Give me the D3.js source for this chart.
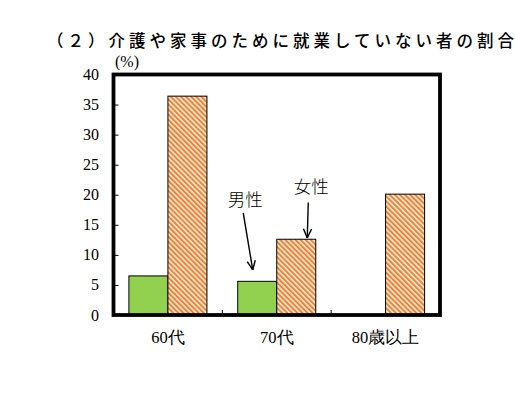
<!DOCTYPE html>
<html lang="en"><head><meta charset="utf-8">
<script src="https://cdn.jsdelivr.net/npm/d3@7"></script>
<style>html,body{margin:0;padding:0;background:#fff;}</style>
</head><body>
<svg id="c" width="515" height="408"></svg>
<script>
const title = "（２）介護や家事のために就業していない者の割合";
const unitLabel = "(%)";
const categories = ["60代", "70代", "80歳以上"];
const seriesNames = ["男性", "女性"];
const maleValues = [6.5, 5.6, 0];
const femaleValues = [36.4, 12.6, 20.1];
const yTicks = [0, 5, 10, 15, 20, 25, 30, 35, 40];
// annotation arrows: label, series, category, arrow tip value
const annotations = [
  {label: "男性", series: "男性", cat: "70代", tipValue: 7.5, tailValue: 17, textValue: 18.1, dxTip: -4.5, dxTail: -14, dxText: -12},
  {label: "女性", series: "女性", cat: "70代", tipValue: 12.8, tailValue: 18.7, textValue: 20.3, dxTip: 11, dxTail: 12, dxText: 15}
];

const SERIF = "Liberation Serif";
const SANSJ = "Noto Sans CJK JP";
const svg = d3.select("#c");
const m = {left: 113.5, right: 440, top: 74.5, bottom: 315};

const x = d3.scaleBand().domain(categories).range([m.left, m.right]).paddingInner(0).paddingOuter(0);
const bw = x.bandwidth();
const xs = d3.scaleBand().domain(seriesNames).range([15.4, bw - 15.4]).padding(0);
const y = d3.scaleLinear().domain([0, 40]).range([m.bottom, m.top]);

const defs = svg.append("defs");
const pat = defs.append("pattern").attr("id", "stripe").attr("patternUnits", "userSpaceOnUse")
  .attr("width", 3.6).attr("height", 4).attr("patternTransform", "rotate(-45)");
pat.append("rect").attr("width", 3.6).attr("height", 4).attr("fill", "#fce4ca");
pat.append("rect").attr("width", 1.9).attr("height", 4).attr("fill", "#e8843a");

// title
svg.append("text").attr("x", 47).attr("y", 47).attr("lang", "ja")
  .attr("font-family", SANSJ).attr("font-size", 16.5).attr("font-weight", 500)
  .attr("textLength", 467).attr("lengthAdjust", "spacing")
  .attr("fill", "#000").text(title);

// unit label
svg.append("text").attr("x", 115).attr("y", 67).attr("font-family", SERIF)
  .attr("font-size", 16).text(unitLabel);

// data
const rows = categories.map((c, i) => ({cat: c, values: [
  {s: "男性", v: maleValues[i]}, {s: "女性", v: femaleValues[i]}]}));

const g = svg.append("g");
const groups = g.selectAll("g.grp").data(rows).join("g").attr("class", "grp")
  .attr("transform", d => `translate(${x(d.cat)},0)`);
groups.selectAll("rect").data(d => d.values.filter(v => v.v > 0)).join("rect")
  .attr("x", d => xs(d.s)).attr("width", xs.bandwidth())
  .attr("y", d => y(d.v)).attr("height", d => y(0) - y(d.v))
  .attr("fill", d => d.s === "男性" ? "#92d050" : "url(#stripe)")
  .attr("stroke", "#000").attr("stroke-width", 1);

// y axis ticks inside
const yAxis = d3.axisRight(y).tickValues(yTicks).tickSize(5).tickFormat("");
svg.append("g").attr("transform", `translate(${m.left},0)`).call(yAxis)
  .call(s => s.select(".domain").remove())
  .call(s => s.selectAll("line").attr("stroke", "#000").attr("stroke-width", 1));
// y labels
svg.append("g").selectAll("text").data(yTicks).join("text")
  .attr("x", 99).attr("y", d => y(d) + 5.5).attr("text-anchor", "end")
  .attr("font-family", SERIF).attr("font-size", 16).attr("fill", "#000")
  .text(d => d);

// x category boundary ticks
const bounds = categories.slice(1).map(c => x(c));
svg.append("g").selectAll("line").data(bounds).join("line")
  .attr("x1", d => d).attr("x2", d => d).attr("y1", m.bottom).attr("y2", m.bottom - 5)
  .attr("stroke", "#000").attr("stroke-width", 1);

// x labels
svg.append("g").selectAll("text").data(categories).join("text")
  .attr("x", d => x(d) + bw / 2).attr("y", 343).attr("text-anchor", "middle")
  .attr("font-family", SERIF).attr("font-size", 16.5)
  .attr("fill", "#000").text(d => d);

// frame
svg.append("rect").attr("x", m.left).attr("y", m.top)
  .attr("width", m.right - m.left).attr("height", m.bottom - m.top)
  .attr("fill", "none").attr("stroke", "#000").attr("stroke-width", 3.8);

// annotations
const ann = svg.append("g");
annotations.forEach(a => {
  const bx = x(a.cat) + xs(a.series) + xs.bandwidth() / 2;
  const tip = [bx + a.dxTip, y(a.tipValue)];
  const tail = [bx + a.dxTail, y(a.tailValue)];
  ann.append("line").attr("x1", tail[0]).attr("y1", tail[1]).attr("x2", tip[0]).attr("y2", tip[1])
    .attr("stroke", "#000").attr("stroke-width", 1.4);
  const ang = Math.atan2(tip[1] - tail[1], tip[0] - tail[0]);
  const L = 10, spread = 0.42;
  [ang + Math.PI - spread, ang + Math.PI + spread].forEach(t => {
    ann.append("line").attr("x1", tip[0]).attr("y1", tip[1])
      .attr("x2", tip[0] + L * Math.cos(t)).attr("y2", tip[1] + L * Math.sin(t))
      .attr("stroke", "#000").attr("stroke-width", 1.4);
  });
  ann.append("text").attr("x", bx + a.dxText).attr("y", y(a.textValue)).attr("lang", "ja")
    .attr("text-anchor", "middle").attr("font-family", SANSJ)
    .attr("font-size", 17.5).attr("font-weight", 300).attr("fill", "#000").text(a.label);
});
</script>
</body></html>
